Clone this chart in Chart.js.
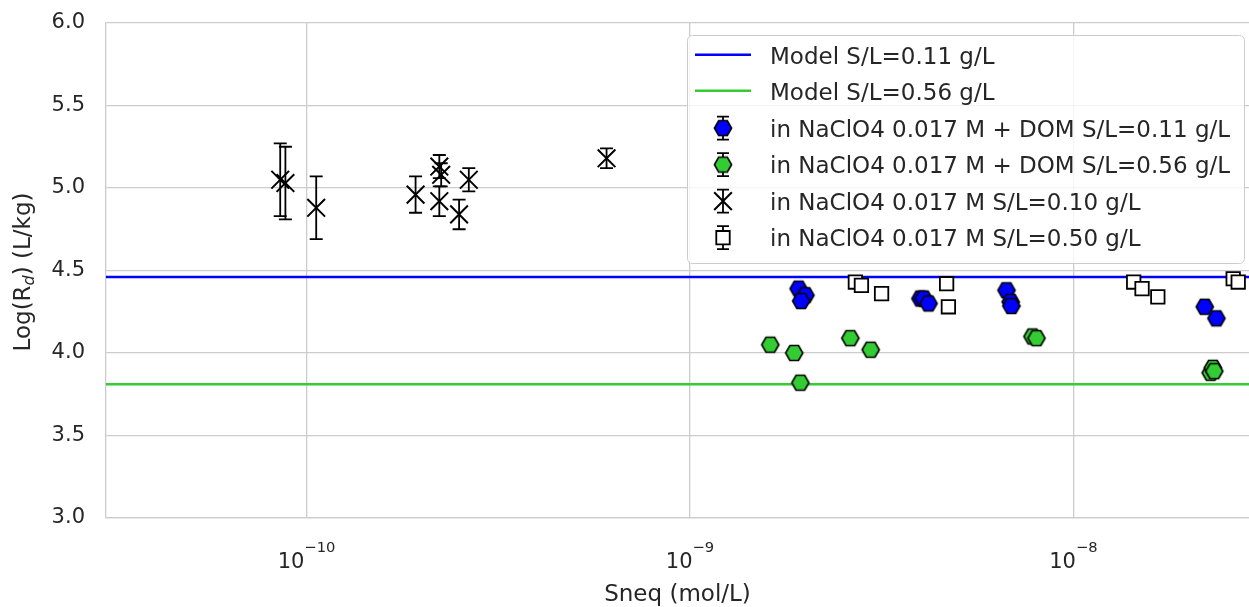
<!DOCTYPE html>
<html>
<head>
<meta charset="utf-8">
<title>Log(Rd) vs Sneq</title>
<script src="https://cdn.jsdelivr.net/npm/chart.js@4.4.1/dist/chart.umd.min.js"></script>
<style>
  html, body { margin: 0; padding: 0; background: #ffffff; }
  canvas { display: block; }
</style>
</head>
<body>
<canvas id="chart" width="1249" height="607"></canvas>
<script>
// ---- axis ranges and ticks ----
const xRange = [3e-11, 2.87e-8];
const yRange = [3.0, 6.0];
const xDecades = [1e-10, 1e-9, 1e-8];
const yStep = 0.5;

// ---- model curves (constant log Rd) ----
const modelLabels = ['Model S/L=0.11 g/L', 'Model S/L=0.56 g/L'];
const modelLogRd = [4.46, 3.81];

// ---- NaClO4 0.017 M + DOM, S/L = 0.11 g/L ----
const domLowSneq  = [1.92e-9, 2.0e-9, 1.95e-9, 3.99e-9, 4.07e-9, 4.19e-9, 6.69e-9, 6.86e-9, 6.89e-9, 2.20e-8, 2.36e-8];
const domLowLogRd = [4.39, 4.35, 4.315, 4.33, 4.33, 4.30, 4.38, 4.31, 4.285, 4.28, 4.21];

// ---- NaClO4 0.017 M + DOM, S/L = 0.56 g/L ----
const domHighSneq  = [1.62e-9, 1.87e-9, 1.94e-9, 2.62e-9, 2.96e-9, 7.82e-9, 8.01e-9, 2.28e-8, 2.31e-8, 2.33e-8];
const domHighLogRd = [4.05, 4.00, 3.82, 4.09, 4.02, 4.10, 4.09, 3.88, 3.91, 3.89];

// ---- NaClO4 0.017 M, S/L = 0.10 g/L (with uncertainties) ----
const naLowSneq  = [8.54e-11, 8.81e-11, 1.06e-10, 1.925e-10, 2.22e-10, 2.245e-10, 2.22e-10, 2.50e-10, 2.65e-10, 6.06e-10];
const naLowLogRd = [5.05, 5.03, 4.88, 4.96, 5.13, 5.08, 4.92, 4.84, 5.05, 5.18];
const naLowErr   = [0.22, 0.22, 0.19, 0.11, 0.07, 0.07, 0.09, 0.09, 0.07, 0.06];

// ---- NaClO4 0.017 M, S/L = 0.50 g/L ----
const naHighSneq  = [2.70e-9, 2.80e-9, 3.16e-9, 4.67e-9, 4.72e-9, 1.436e-8, 1.51e-8, 1.66e-8, 2.61e-8, 2.69e-8];
const naHighLogRd = [4.43, 4.41, 4.36, 4.42, 4.28, 4.43, 4.39, 4.34, 4.45, 4.43];

const seriesLabels = [
  'in NaClO4 0.017 M + DOM S/L=0.11 g/L',
  'in NaClO4 0.017 M + DOM S/L=0.56 g/L',
  'in NaClO4 0.017 M S/L=0.10 g/L',
  'in NaClO4 0.017 M S/L=0.50 g/L'
];

const FONT = '"DejaVu Sans", "Liberation Sans", Arial, sans-serif';
const TEXT = '#262626';
const GRID = '#cccccc';
const BLUE = '#0000ff';
const GREEN = '#33cc33';

Chart.defaults.font.family = FONT;
Chart.defaults.color = TEXT;

const pairs = (xs, ys) => xs.map((v, i) => ({ x: v, y: ys[i] }));

// flat-topped hexagon marker
function hexagonMarker(fill) {
  const size = 24, r = 8.6;
  const c = document.createElement('canvas');
  c.width = size; c.height = size;
  const g = c.getContext('2d');
  g.beginPath();
  for (let k = 0; k < 6; k++) {
    const a = k * Math.PI / 3;
    const px = size / 2 + r * Math.cos(a), py = size / 2 + r * Math.sin(a);
    if (k === 0) g.moveTo(px, py); else g.lineTo(px, py);
  }
  g.closePath();
  g.fillStyle = fill; g.fill();
  g.lineWidth = 1.6; g.strokeStyle = '#000000'; g.stroke();
  return c;
}
const hexBlue = hexagonMarker(BLUE);
const hexGreen = hexagonMarker(GREEN);

const datasets = [
  {
    label: modelLabels[0], kind: 'line',
    data: xRange.map(v => ({ x: v, y: modelLogRd[0] })),
    showLine: true, pointRadius: 0, borderColor: BLUE, borderWidth: 2.5, order: 10
  },
  {
    label: modelLabels[1], kind: 'line',
    data: xRange.map(v => ({ x: v, y: modelLogRd[1] })),
    showLine: true, pointRadius: 0, borderColor: GREEN, borderWidth: 2.5, order: 10
  },
  {
    label: seriesLabels[0], kind: 'marker',
    data: pairs(domLowSneq, domLowLogRd),
    pointStyle: hexBlue, pointRadius: 10, backgroundColor: BLUE, borderColor: '#000000', order: 3
  },
  {
    label: seriesLabels[1], kind: 'marker',
    data: pairs(domHighSneq, domHighLogRd),
    pointStyle: hexGreen, pointRadius: 10, backgroundColor: GREEN, borderColor: '#000000', order: 2
  },
  {
    label: seriesLabels[2], kind: 'marker',
    data: pairs(naLowSneq, naLowLogRd),
    errorBars: naLowErr,
    pointStyle: 'crossRot', pointRadius: 12.5, borderWidth: 2, borderColor: '#000000',
    backgroundColor: '#000000', order: 1
  },
  {
    label: seriesLabels[3], kind: 'marker',
    data: pairs(naHighSneq, naHighLogRd),
    pointStyle: 'rect', pointRadius: 9.5, borderWidth: 1.8, borderColor: '#000000',
    backgroundColor: '#ffffff', order: 0
  }
];

// vertical error bars with caps
const errorBarPlugin = {
  id: 'errorBars',
  beforeDatasetsDraw(chart) {
    const { ctx, chartArea, scales: { x, y } } = chart;
    ctx.save();
    ctx.beginPath();
    ctx.rect(chartArea.left, chartArea.top, chartArea.width, chartArea.height);
    ctx.clip();
    chart.data.datasets.forEach(ds => {
      if (!ds.errorBars) return;
      ctx.strokeStyle = ds.borderColor;
      ctx.lineWidth = 1.8;
      ds.data.forEach((p, i) => {
        const e = ds.errorBars[i];
        const px = x.getPixelForValue(p.x);
        const top = y.getPixelForValue(p.y + e);
        const bot = y.getPixelForValue(p.y - e);
        ctx.beginPath();
        ctx.moveTo(px, top); ctx.lineTo(px, bot);
        ctx.moveTo(px - 6.5, top); ctx.lineTo(px + 6.5, top);
        ctx.moveTo(px - 6.5, bot); ctx.lineTo(px + 6.5, bot);
        ctx.stroke();
      });
    });
    ctx.restore();
  }
};

// power-of-ten tick labels, y-axis title with subscript, and the legend
const annotationPlugin = {
  id: 'annotations',
  afterDraw(chart) {
    const { ctx, scales: { x } } = chart;
    ctx.save();
    ctx.fillStyle = TEXT;
    ctx.textBaseline = 'alphabetic';
    ctx.textAlign = 'left';

    // x tick labels: 10^n
    const mainFont = '21px ' + FONT, expFont = '14.7px ' + FONT;
    xDecades.forEach(v => {
      const px = x.getPixelForValue(v);
      const exp = String(Math.round(Math.log10(v))).replace('-', '\u2212');
      ctx.font = mainFont; const wMain = ctx.measureText('10').width;
      ctx.font = expFont; const wExp = ctx.measureText(exp).width;
      const start = px - (wMain + wExp) / 2;
      ctx.font = mainFont; ctx.fillText('10', start, 567.5);
      ctx.font = expFont; ctx.fillText(exp, start + wMain, 551.5);
    });

    // y-axis title: Log(R_d) (L/kg)
    ctx.save();
    ctx.translate(29.8, 272);
    ctx.rotate(-Math.PI / 2);
    const tFont = '23px ' + FONT, subFont = 'italic 16px ' + FONT;
    ctx.font = tFont; const w1 = ctx.measureText('Log(R').width; const w3 = ctx.measureText(') (L/kg)').width;
    ctx.font = subFont; const w2 = ctx.measureText('d').width;
    let sx = -(w1 + w2 + w3) / 2;
    ctx.font = tFont; ctx.fillText('Log(R', sx, 0);
    ctx.font = subFont; ctx.fillText('d', sx + w1, 4.5);
    ctx.font = tFont; ctx.fillText(') (L/kg)', sx + w1 + w2, 0);
    ctx.restore();

    // legend
    const box = { x: 687, y: 35, w: 557, h: 228, r: 5 };
    ctx.beginPath();
    ctx.roundRect(box.x + 0.5, box.y + 0.5, box.w, box.h, box.r);
    ctx.fillStyle = 'rgba(255,255,255,0.8)';
    ctx.fill();
    ctx.strokeStyle = GRID; ctx.lineWidth = 1; ctx.stroke();

    const baselines = [64, 100, 136.6, 173.1, 209.6, 246.2];
    const handleX0 = 695, handleX1 = 751, markerX = 723, textX = 770;
    chart.data.datasets.forEach((ds, i) => {
      const base = baselines[i];
      const cy = base - 8.5;
      if (ds.kind === 'line') {
        ctx.strokeStyle = ds.borderColor; ctx.lineWidth = ds.borderWidth;
        ctx.beginPath(); ctx.moveTo(handleX0, base - 9.3); ctx.lineTo(handleX1, base - 9.3); ctx.stroke();
      } else {
        ctx.strokeStyle = '#000000'; ctx.lineWidth = 1.8;
        ctx.beginPath();
        ctx.moveTo(markerX, cy - 11.5); ctx.lineTo(markerX, cy + 11.5);
        ctx.moveTo(markerX - 6, cy - 11.5); ctx.lineTo(markerX + 6, cy - 11.5);
        ctx.moveTo(markerX - 6, cy + 11.5); ctx.lineTo(markerX + 6, cy + 11.5);
        ctx.stroke();
        ctx.fillStyle = ds.backgroundColor;
        ctx.strokeStyle = ds.borderColor;
        ctx.lineWidth = ds.borderWidth || 1;
        Chart.helpers.drawPoint(ctx, {
          pointStyle: ds.pointStyle, radius: ds.pointRadius, rotation: 0, borderWidth: ds.borderWidth || 0
        }, markerX, cy);
      }
      ctx.fillStyle = TEXT;
      ctx.font = '23px ' + FONT;
      ctx.fillText(ds.label, textX, base);
    });
    ctx.restore();
  }
};

new Chart(document.getElementById('chart'), {
  type: 'scatter',
  data: { datasets },
  plugins: [errorBarPlugin, annotationPlugin],
  options: {
    responsive: false,
    animation: false,
    layout: { autoPadding: false, padding: { top: 23, right: 0, bottom: 0, left: 0 } },
    plugins: { legend: { display: false }, tooltip: { enabled: false } },
    scales: {
      x: {
        type: 'logarithmic',
        min: xRange[0], max: xRange[1],
        afterBuildTicks: scale => { scale.ticks = xDecades.map(v => ({ value: v })); },
        afterFit: scale => {
          scale.height = 89;
          scale.paddingLeft = 0; scale.paddingRight = 0;
        },
        ticks: { display: false },
        grid: { color: GRID, lineWidth: 1.3, drawTicks: false },
        border: { color: GRID, width: 1.3 },
        title: {
          display: true, text: 'Sneq (mol/L)', color: TEXT,
          font: { size: 23, lineHeight: 1 }, padding: 0
        }
      },
      y: {
        min: yRange[0], max: yRange[1],
        afterFit: scale => {
          scale.width = 106;
          scale.paddingTop = 0; scale.paddingBottom = 0;
        },
        ticks: {
          stepSize: yStep, padding: 21, color: TEXT,
          font: { size: 21 },
          callback: v => Number(v).toFixed(1)
        },
        grid: { color: GRID, lineWidth: 1.3, drawTicks: false },
        border: { color: GRID, width: 1.3 }
      }
    }
  }
});
</script>
</body>
</html>
